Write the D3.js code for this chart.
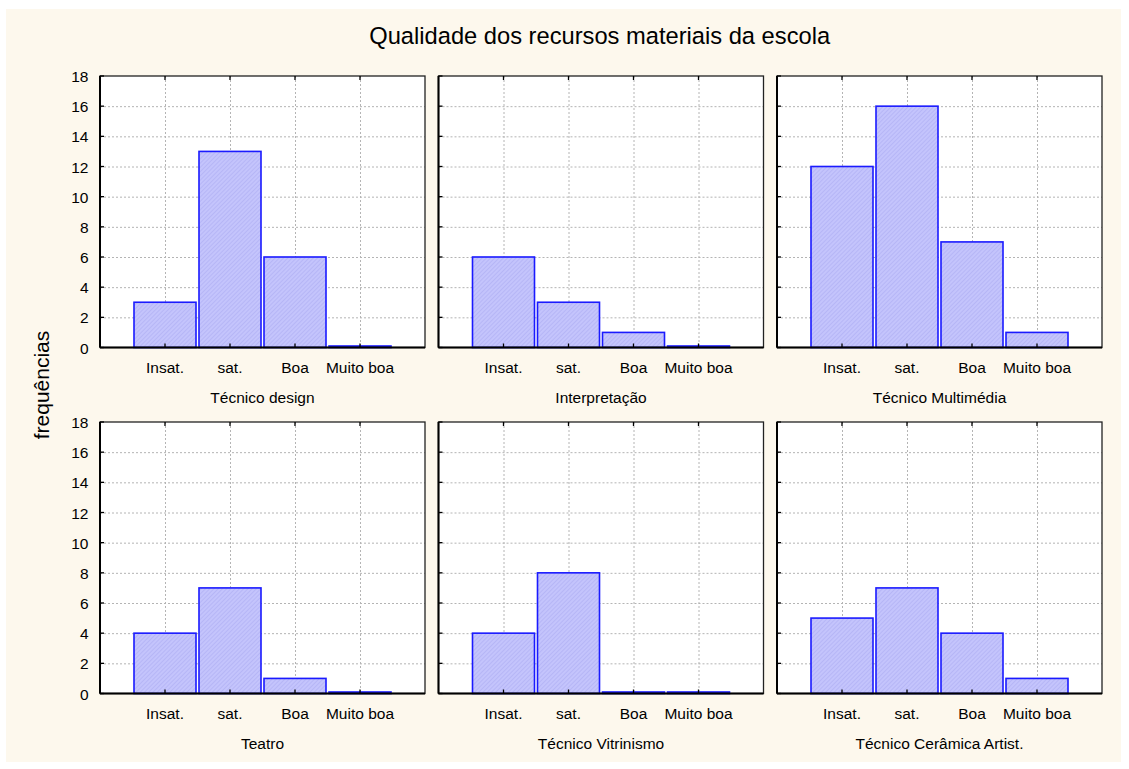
<!DOCTYPE html>
<html><head><meta charset="utf-8">
<script src="https://cdn.jsdelivr.net/npm/d3@7"></script>
<style>body{margin:0;background:#fff}</style>
</head><body>
<svg id="c" width="1129" height="769"></svg>
<script>
const title = "Qualidade dos recursos materiais da escola";
const yLabel = "frequências";
const categories = ["Insat.", "sat.", "Boa", "Muito boa"];
const panelNames = ["Técnico design", "Interpretação", "Técnico Multimédia", "Teatro", "Técnico Vitrinismo", "Técnico Cerâmica Artist."];
const tecnicoDesign = [3, 13, 6, 0];
const interpretacao = [6, 3, 1, 0];
const tecnicoMultimedia = [12, 16, 7, 1];
const teatro = [4, 7, 1, 0];
const tecnicoVitrinismo = [4, 8, 0, 0];
const tecnicoCeramica = [5, 7, 4, 1];
const seriesValues = [tecnicoDesign, interpretacao, tecnicoMultimedia, teatro, tecnicoVitrinismo, tecnicoCeramica];
const yTicks = [0, 2, 4, 6, 8, 10, 12, 14, 16, 18];

const svg = d3.select("#c");
const font = "'Liberation Sans',Arial,sans-serif";
svg.append("rect").attr("x", 6).attr("y", 9).attr("width", 1115).attr("height", 753).attr("fill", "#fdf8ed");

const defs = svg.append("defs");
const pat = defs.append("pattern").attr("id", "hatch").attr("patternUnits", "userSpaceOnUse")
  .attr("width", 3).attr("height", 3).attr("patternTransform", "rotate(45)");
pat.append("rect").attr("width", 3).attr("height", 3).attr("fill", "#c4c4fc");
pat.append("line").attr("x1", 0).attr("y1", 0).attr("x2", 0).attr("y2", 3).attr("stroke", "#a9a9f0").attr("stroke-width", 1);

svg.append("text").attr("x", 599.7).attr("y", 44).attr("text-anchor", "middle")
  .attr("font-family", font).attr("font-size", 23.7).attr("fill", "#000").text(title);
svg.append("text").attr("transform", "translate(49,385) rotate(-90)").attr("text-anchor", "middle")
  .attr("font-family", font).attr("font-size", 21).attr("fill", "#000").text(yLabel);

const colX = [100, 438.5, 777];
const rowY = [76, 422];
const pw = 325, ph = 271.5;

seriesValues.forEach((vals, i) => {
  const x0 = colX[i % 3], y0 = rowY[Math.floor(i / 3)];
  const g = svg.append("g").attr("transform", `translate(${x0},${y0})`);
  const x = d3.scaleLinear().domain([0, 5]).range([0, pw]);
  const y = d3.scaleLinear().domain([0, 18]).range([ph, 0]);
  g.append("rect").attr("width", pw).attr("height", ph).attr("fill", "#fff");
  g.selectAll(".gy").data(yTicks.filter(t => t > 0 && t < 18)).enter().append("line")
    .attr("x1", 0).attr("x2", pw).attr("y1", d => y(d) + 0.5).attr("y2", d => y(d) + 0.5)
    .attr("stroke", "#b4b4b4").attr("stroke-dasharray", "2,2");
  g.selectAll(".gx").data(d3.range(1, 5)).enter().append("line")
    .attr("y1", 0).attr("y2", ph).attr("x1", d => Math.round(x(d)) + 0.5).attr("x2", d => Math.round(x(d)) + 0.5)
    .attr("stroke", "#b4b4b4").attr("stroke-dasharray", "2,2");
  const bw = x(1) - x(0);
  g.selectAll(".bar").data(vals).enter().append("rect")
    .attr("x", (d, k) => x(k + 0.5) + 1.5)
    .attr("width", bw - 3)
    .attr("y", d => Math.min(y(d), ph - 1.5))
    .attr("height", d => Math.max(ph - y(d), 1.5))
    .attr("fill", "url(#hatch)").attr("stroke", "#1a1aff").attr("stroke-width", 1.6);
  g.append("rect").attr("width", pw).attr("height", ph).attr("fill", "none").attr("stroke", "#222").attr("stroke-width", 1.3);
  g.append("line").attr("x1", 0).attr("x2", 0).attr("y1", 0).attr("y2", ph).attr("stroke", "#000").attr("stroke-width", 2);
  g.append("line").attr("x1", 0).attr("x2", pw).attr("y1", ph).attr("y2", ph).attr("stroke", "#000").attr("stroke-width", 2);
  g.selectAll(".ty").data(yTicks).enter().append("line")
    .attr("x1", 0).attr("x2", 4).attr("y1", d => y(d)).attr("y2", d => y(d)).attr("stroke", "#000").attr("stroke-width", 1.3);
  g.selectAll(".tx").data(d3.range(1, 5)).enter().append("line")
    .attr("y1", ph).attr("y2", ph - 4).attr("x1", d => x(d)).attr("x2", d => x(d)).attr("stroke", "#000").attr("stroke-width", 1.3);
  g.selectAll(".txt").data(d3.range(1, 5)).enter().append("line")
    .attr("y1", 0).attr("y2", 4).attr("x1", d => x(d)).attr("x2", d => x(d)).attr("stroke", "#000").attr("stroke-width", 1.3);
  if (i % 3 === 0) {
    g.selectAll(".yl").data(yTicks).enter().append("text")
      .attr("x", -11.5).attr("y", d => y(d) + 6).attr("text-anchor", "end")
      .attr("font-family", font).attr("font-size", 15.5).attr("fill", "#000").text(d => d);
  }
  g.selectAll(".xl").data(categories).enter().append("text")
    .attr("x", (d, k) => x(k + 1)).attr("y", ph + 25).attr("text-anchor", "middle")
    .attr("font-family", font).attr("font-size", 15.5).attr("fill", "#000").text(d => d);
  g.append("text").attr("x", pw / 2).attr("y", ph + 55).attr("text-anchor", "middle")
    .attr("font-family", font).attr("font-size", 15.5).attr("fill", "#000").text(panelNames[i]);
});
</script>
</body></html>
